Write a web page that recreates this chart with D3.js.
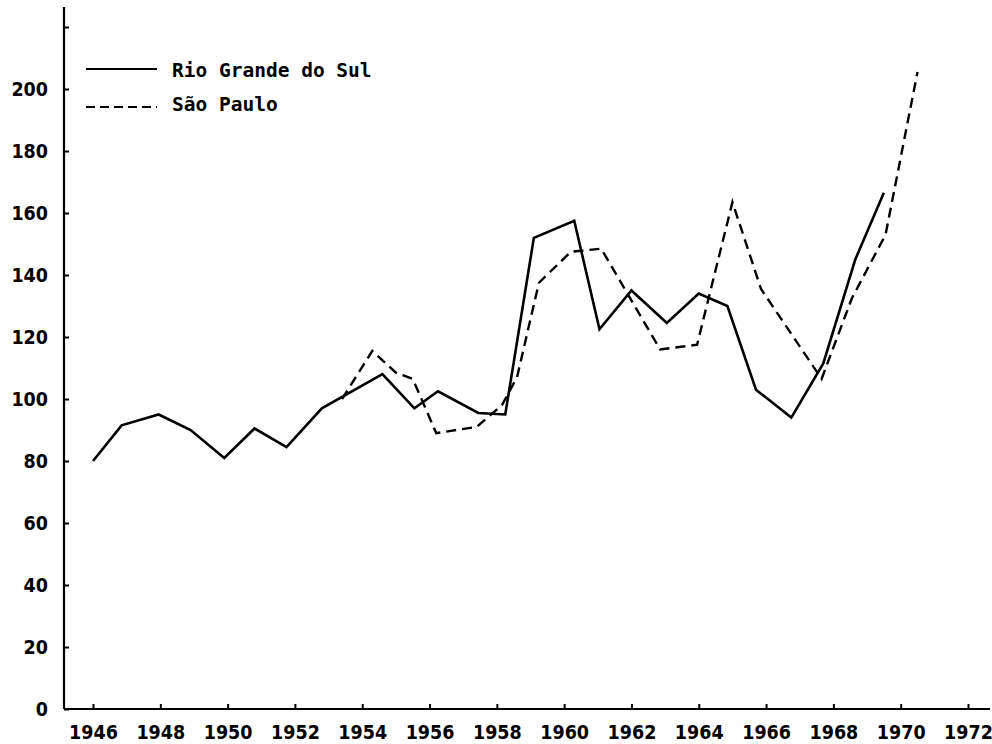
<!DOCTYPE html>
<html>
<head>
<meta charset="utf-8">
<script src="https://cdn.jsdelivr.net/npm/d3@7"></script>
<style>
  html, body { margin: 0; padding: 0; background: #fff; }
  svg { display: block; }
  .tick text { font-family: 'DejaVu Sans Condensed', 'DejaVu Sans', sans-serif; font-stretch: condensed; font-weight: bold; font-size: 19.5px; fill: #000; }
  .legend text { font-family: 'DejaVu Sans Mono', 'Liberation Mono', monospace; font-weight: bold; font-size: 19.5px; fill: #000; }
</style>
</head>
<body>
<svg id="chart" width="992" height="744"></svg>
<script>
// ---- data ----
const seriesNames = ["Rio Grande do Sul", "São Paulo"];

const rgsYears  = [1946.0, 1946.85, 1947.95, 1948.9, 1949.9, 1950.8, 1951.75, 1952.8, 1954.6, 1955.55, 1956.25, 1957.45, 1958.25, 1959.1, 1960.3, 1961.05, 1962.0, 1963.05, 1964.0, 1964.85, 1965.7, 1966.75, 1967.7, 1968.65, 1969.5];
const rgsValues = [80, 91.5, 95, 90, 81, 90.5, 84.5, 97, 108, 97, 102.5, 95.5, 95, 152, 157.5, 122.5, 135, 124.5, 134, 130, 103, 94, 111.5, 145, 166.5];

const spYears  = [1953.4, 1954.3, 1955.0, 1955.5, 1956.2, 1957.4, 1958.15, 1958.6, 1959.25, 1960.2, 1961.1, 1962.85, 1963.95, 1965.0, 1965.85, 1967.65, 1968.55, 1969.55, 1970.5];
const spValues = [100, 115.5, 108.5, 106.5, 89, 91, 98, 107, 137.5, 147.5, 148.5, 116, 117.5, 163.5, 135.5, 106.5, 132.5, 153, 205.5];

const xTickYears = [1946, 1948, 1950, 1952, 1954, 1956, 1958, 1960, 1962, 1964, 1966, 1968, 1970, 1972];
const yTickValues = [0, 20, 40, 60, 80, 100, 120, 140, 160, 180, 200, 220];
const yTickLabelMax = 200;

// ---- layout ----
const svg = d3.select("#chart");
const axisX0 = 64, axisX1 = 990, axisYBottom = 709, axisYTop = 7;

const x = d3.scaleLinear().domain([1946, 1972]).range([93, 968]);
const y = d3.scaleLinear().domain([0, 200]).range([709, 89]);

// y axis
const yAxis = d3.axisLeft(y)
  .tickValues(yTickValues)
  .tickSizeInner(-5)
  .tickSizeOuter(0)
  .tickPadding(16)
  .tickFormat(d => d <= yTickLabelMax ? String(d) : "");
const gy = svg.append("g").attr("transform", `translate(${axisX0},0)`).call(yAxis);
gy.select(".domain").remove();
gy.selectAll(".tick line").attr("stroke", "#000").attr("stroke-width", 2);
gy.selectAll(".tick text").attr("dy", "0.34em");
svg.append("line")
  .attr("x1", axisX0).attr("x2", axisX0)
  .attr("y1", axisYTop).attr("y2", axisYBottom)
  .attr("stroke", "#000").attr("stroke-width", 2.2);

// x axis
const xAxis = d3.axisBottom(x)
  .tickValues(xTickYears)
  .tickSizeInner(-5)
  .tickSizeOuter(0)
  .tickPadding(16)
  .tickFormat(d3.format("d"));
const gx = svg.append("g").attr("transform", `translate(0,${axisYBottom})`).call(xAxis);
gx.select(".domain").remove();
gx.selectAll(".tick line").attr("stroke", "#000").attr("stroke-width", 2);
svg.append("line")
  .attr("x1", axisX0).attr("x2", axisX1)
  .attr("y1", axisYBottom).attr("y2", axisYBottom)
  .attr("stroke", "#000").attr("stroke-width", 2.2);

// lines
const line = d3.line().x(d => x(d[0])).y(d => y(d[1]));
const rgs = d3.zip(rgsYears, rgsValues);
const sp = d3.zip(spYears, spValues);

svg.append("path").datum(sp)
  .attr("d", line)
  .attr("fill", "none").attr("stroke", "#000")
  .attr("stroke-width", 2.4)
  .attr("stroke-dasharray", "10,6");

svg.append("path").datum(rgs)
  .attr("d", line)
  .attr("fill", "none").attr("stroke", "#000")
  .attr("stroke-width", 2.6)
  .attr("stroke-linejoin", "miter");

// legend
const legend = svg.append("g").attr("class", "legend");
const legendRows = [
  { name: seriesNames[0], dash: null, ly: 69, ty: 77 },
  { name: seriesNames[1], dash: "9,5", ly: 107, ty: 111 }
];
legendRows.forEach(r => {
  legend.append("line")
    .attr("x1", 86).attr("x2", 157)
    .attr("y1", r.ly).attr("y2", r.ly)
    .attr("stroke", "#000").attr("stroke-width", 2.2)
    .attr("stroke-dasharray", r.dash);
  legend.append("text")
    .attr("x", 172).attr("y", r.ty)
    .text(r.name);
});
</script>
</body>
</html>
